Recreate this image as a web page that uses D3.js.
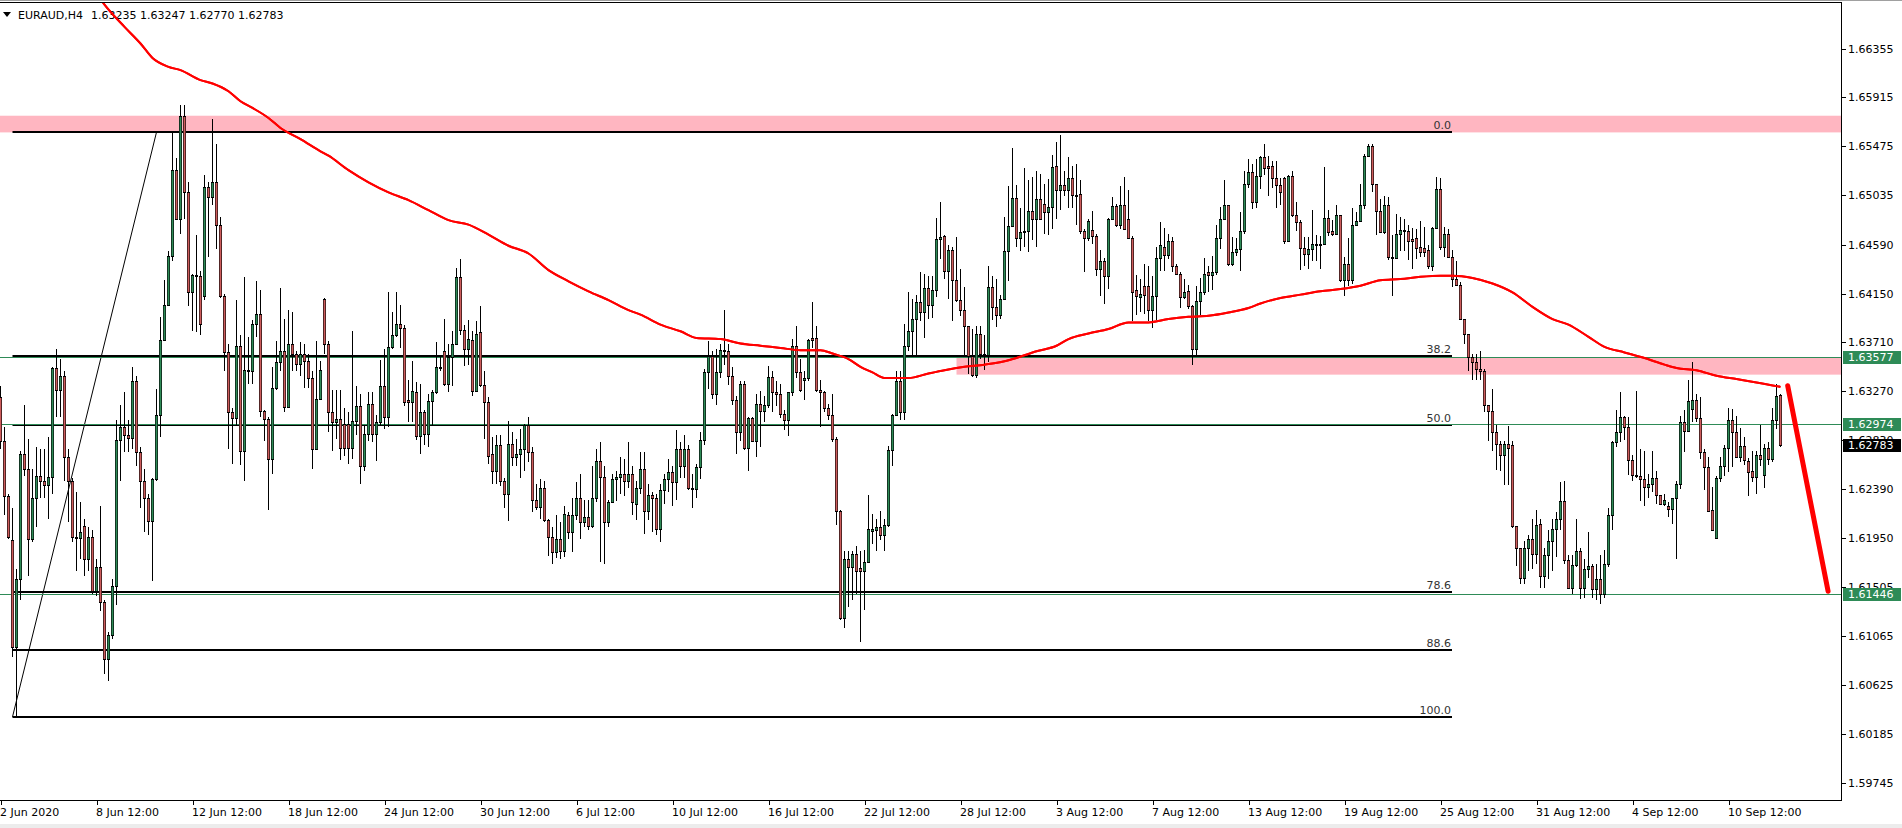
<!DOCTYPE html>
<html><head><meta charset="utf-8">
<script src="https://cdn.jsdelivr.net/npm/d3@7"></script>
<style>
body{margin:0;background:#fff;overflow:hidden}
svg{display:block}
text{font-family:"DejaVu Sans",Verdana,sans-serif;font-size:11px}
</style></head>
<body><svg id="c" width="1902" height="828"></svg>
<script>
// ---------- DATA (EURAUD H4) ----------
const opens=[
1.6322,1.6282,1.6233,1.6193,1.6097,1.6158,1.6271,1.6257,1.6194,1.6231,
1.6251,1.6246,1.6243,1.6250,1.6348,1.6328,1.6341,1.6268,1.6246,1.6196,
1.6195,1.6206,1.6176,1.6196,1.6147,1.6169,1.6137,1.6086,1.6108,1.6152,
1.6283,1.6295,1.6288,1.6285,1.6336,1.6272,1.6246,1.6231,1.6210,1.6248,
1.6306,1.6373,1.6405,1.6449,1.6526,1.6482,1.6575,1.6506,1.6416,1.6432,
1.6431,1.6413,1.6511,1.6502,1.6515,1.6477,1.6413,1.6362,1.6308,1.6303,
1.6368,1.6273,1.6346,1.6345,1.6388,1.6397,1.6309,1.6302,1.6266,1.6330,
1.6353,1.6363,1.6313,1.6370,1.6361,1.6352,1.6361,1.6354,1.6339,1.6275,
1.6320,1.6410,1.6370,1.6308,1.6299,1.6302,1.6298,1.6298,1.6276,1.6300,
1.6314,1.6260,1.6289,1.6316,1.6289,1.6299,1.6332,1.6304,1.6367,1.6378,
1.6388,1.6384,1.6319,1.6317,1.6326,1.6287,1.6308,1.6289,1.6318,1.6326,
1.6348,1.6363,1.6334,1.6358,1.6370,1.6430,1.6382,1.6365,1.6373,1.6327,
1.6380,1.6333,1.6317,1.6271,1.6255,1.6279,1.6246,1.6235,1.6280,1.6268,
1.6271,1.6275,1.6297,1.6272,1.6229,1.6223,1.6240,1.6211,1.6196,1.6182,
1.6194,1.6183,1.6216,1.6200,1.6216,1.6231,1.6209,1.6214,1.6206,1.6231,
1.6264,1.6250,1.6209,1.6227,1.6248,1.6250,1.6253,1.6246,1.6253,1.6226,
1.6240,1.6257,1.6219,1.6234,1.6231,1.6203,1.6238,1.6248,1.6254,1.6245,
1.6275,1.6260,1.6275,1.6240,1.6239,1.6259,1.6283,1.6344,1.6359,1.6325,
1.6344,1.6364,1.6363,1.6341,1.6319,1.6290,1.6334,1.6276,1.6303,1.6282,
1.6316,1.6309,1.6315,1.6340,1.6326,1.6325,1.6307,1.6301,1.6326,1.6368,
1.6344,1.6337,1.6339,1.6375,1.6375,1.6328,1.6326,1.6312,1.6306,1.6284,
1.6219,1.6123,1.6176,1.6169,1.6181,1.6168,1.6165,1.6173,1.6201,1.6202,
1.6205,1.6198,1.6207,1.6274,1.6306,1.6336,1.6308,1.6368,1.6381,1.6392,
1.6407,1.6398,1.6420,1.6405,1.6418,1.6464,1.6467,1.6435,1.6454,1.6427,
1.6409,1.6400,1.6386,1.6359,1.6342,1.6379,1.6361,1.6360,1.6421,1.6403,
1.6396,1.6410,1.6453,1.6476,1.6501,1.6465,1.6470,1.6471,1.6489,1.6482,
1.6500,1.6496,1.6488,1.6493,1.6530,1.6508,1.6513,1.6508,1.6519,1.6504,
1.6505,1.6471,1.6465,1.6472,1.6467,1.6437,1.6444,1.6431,1.6482,1.6494,
1.6477,1.6495,1.6482,1.6465,1.6418,1.6412,1.6422,1.6422,1.6400,1.6413,
1.6447,1.6457,1.6450,1.6462,1.6440,1.6433,1.6412,1.6417,1.6404,1.6365,
1.6408,1.6416,1.6434,1.6432,1.6434,1.6465,1.6482,1.6495,1.6442,1.6452,
1.6455,1.6471,1.6514,1.6524,1.6497,1.6521,1.6538,1.6530,1.6530,1.6519,
1.6513,1.6519,1.6462,1.6521,1.6486,1.6479,1.6456,1.6451,1.6455,1.6460,
1.6459,1.6460,1.6483,1.6471,1.6469,1.6486,1.6427,1.6442,1.6427,1.6477,
1.6480,1.6495,1.6539,1.6548,1.6514,1.6489,1.6470,1.6495,1.6448,1.6447,
1.6469,1.6472,1.6471,1.6464,1.6465,1.6457,1.6456,1.6454,1.6440,1.6474,
1.6509,1.6457,1.6469,1.6448,1.6428,1.6423,1.6392,1.6379,1.6358,1.6353,
1.6347,1.6345,1.6315,1.6309,1.6290,1.6280,1.6270,1.6280,1.6279,1.6206,
1.6186,1.6159,1.6186,1.6194,1.6181,1.6208,1.6161,1.6180,1.6192,1.6203,
1.6212,1.6228,1.6175,1.6150,1.6171,1.6183,1.6150,1.6167,1.6170,1.6149,
1.6158,1.6145,1.6172,1.6216,1.6281,1.6290,1.6304,1.6295,1.6265,1.6252,
1.6251,1.6248,1.6241,1.6244,1.6249,1.6234,1.6226,1.6224,1.6221,1.6231,
1.6244,1.6299,1.6291,1.6311,1.6319,1.6303,1.6272,1.6259,1.6220,1.6195,
1.6249,1.6260,1.6276,1.6301,1.6290,1.6268,1.6278,1.6264,1.6255,1.6250,
1.6270,1.6252,1.6276,1.6266,1.6301,1.63235];
const highs=[
1.6332,1.6295,1.6235,1.6222,1.6167,1.6273,1.6315,1.6284,1.6257,1.6277,
1.6275,1.6275,1.6286,1.6349,1.6365,1.6356,1.6345,1.6275,1.6249,1.6236,
1.6227,1.6212,1.6205,1.6202,1.6176,1.6224,1.6139,1.6110,1.6158,1.6301,
1.6315,1.6326,1.6301,1.6349,1.6341,1.6277,1.6257,1.6235,1.6249,1.6329,
1.6394,1.6427,1.6453,1.6560,1.6537,1.6585,1.6585,1.6515,1.6433,1.6468,
1.6435,1.6522,1.6515,1.6572,1.6550,1.6484,1.6415,1.6370,1.6312,1.6409,
1.6378,1.6430,1.6376,1.6391,1.6426,1.6418,1.6310,1.6304,1.6349,1.6372,
1.6420,1.6392,1.6400,1.6398,1.6363,1.6371,1.6370,1.6361,1.6345,1.6372,
1.6354,1.6411,1.6372,1.6328,1.6328,1.6328,1.6312,1.6308,1.6381,1.6332,
1.6325,1.6297,1.6326,1.6326,1.6306,1.6355,1.6365,1.6416,1.6398,1.6416,
1.6405,1.6387,1.6337,1.6354,1.6335,1.6334,1.6310,1.6325,1.6328,1.6371,
1.6358,1.6392,1.6370,1.6381,1.6438,1.6446,1.6387,1.6391,1.6381,1.6390,
1.6404,1.6345,1.6322,1.6286,1.6288,1.6288,1.6249,1.6300,1.6290,1.6284,
1.6293,1.6298,1.6304,1.6277,1.6244,1.6248,1.6246,1.6212,1.6205,1.6216,
1.6209,1.6224,1.6218,1.6231,1.6245,1.6253,1.6229,1.6229,1.6260,1.6275,
1.6281,1.6260,1.6229,1.6253,1.6255,1.6268,1.6266,1.6281,1.6260,1.6246,
1.6272,1.6272,1.6244,1.6236,1.6235,1.6244,1.6253,1.6266,1.6260,1.6292,
1.6281,1.6288,1.6279,1.6253,1.6262,1.6290,1.6347,1.6372,1.6363,1.6365,
1.6370,1.6400,1.6370,1.6349,1.6323,1.6336,1.6336,1.6304,1.6304,1.6325,
1.6327,1.6323,1.6350,1.6345,1.6336,1.6334,1.6310,1.6326,1.6374,1.6386,
1.6356,1.6345,1.6374,1.6407,1.6386,1.6337,1.6327,1.6316,1.6325,1.6286,
1.6220,1.6183,1.6183,1.6183,1.6188,1.6183,1.6184,1.6234,1.6217,1.6212,
1.6219,1.6212,1.6278,1.6307,1.6345,1.6345,1.6388,1.6416,1.6410,1.6414,
1.6434,1.6433,1.6431,1.6431,1.6483,1.6497,1.6468,1.6459,1.6457,1.6466,
1.6437,1.6421,1.6386,1.6383,1.6386,1.6386,1.6378,1.6440,1.6431,1.6428,
1.6414,1.6484,1.6512,1.6546,1.6513,1.6492,1.6528,1.6517,1.6520,1.6525,
1.6523,1.6514,1.6518,1.6540,1.6551,1.6558,1.6525,1.6538,1.6530,1.6532,
1.6517,1.6473,1.6482,1.6489,1.6469,1.6454,1.6447,1.6483,1.6502,1.6496,
1.6512,1.6520,1.6508,1.6467,1.6432,1.6428,1.6442,1.6440,1.6431,1.6457,
1.6479,1.6474,1.6469,1.6466,1.6442,1.6434,1.6428,1.6423,1.6405,1.6422,
1.6429,1.6447,1.6440,1.6449,1.6477,1.6493,1.6517,1.6495,1.6466,1.6465,
1.6488,1.6525,1.6536,1.6532,1.6536,1.6539,1.6550,1.6539,1.6534,1.6534,
1.6519,1.6520,1.6522,1.6525,1.6497,1.6481,1.6466,1.6466,1.6490,1.6468,
1.6467,1.6529,1.6490,1.6481,1.6495,1.6486,1.6448,1.6465,1.6492,1.6488,
1.6514,1.6541,1.6550,1.6550,1.6514,1.6500,1.6503,1.6502,1.6468,1.6487,
1.6484,1.6482,1.6477,1.6474,1.6473,1.6480,1.6475,1.6459,1.6475,1.6520,
1.6519,1.6475,1.6473,1.6454,1.6444,1.6425,1.6392,1.6379,1.6361,1.6361,
1.6363,1.6347,1.6315,1.6329,1.6297,1.6282,1.6282,1.6296,1.6282,1.6206,
1.6186,1.6192,1.6198,1.6212,1.6220,1.6212,1.6186,1.6202,1.6212,1.6218,
1.6245,1.6246,1.6180,1.6180,1.6212,1.6186,1.6176,1.6200,1.6172,1.6172,
1.6180,1.6184,1.6222,1.6282,1.6310,1.6326,1.6305,1.6304,1.6270,1.6327,
1.6275,1.6273,1.6253,1.6273,1.6255,1.6234,1.6235,1.6227,1.6231,1.6246,
1.6305,1.6310,1.6337,1.6353,1.6325,1.6322,1.6275,1.6268,1.6241,1.6251,
1.6268,1.6279,1.6312,1.6311,1.6305,1.6294,1.6286,1.6267,1.6273,1.6273,
1.6297,1.6280,1.6281,1.6312,1.6334,1.63247];
const lows=[
1.6275,1.6216,1.6194,1.6088,1.6034,1.6139,1.6251,1.6161,1.6191,1.6205,
1.6231,1.6231,1.6212,1.6235,1.6304,1.6304,1.6246,1.6209,1.6191,1.6165,
1.6176,1.6161,1.6165,1.6145,1.6143,1.6129,1.6073,1.6066,1.6104,1.6135,
1.6246,1.6272,1.6272,1.6275,1.6260,1.6222,1.6200,1.6198,1.6156,1.6246,
1.6286,1.6372,1.6404,1.6444,1.6481,1.6469,1.6482,1.6404,1.6381,1.6380,
1.6378,1.6409,1.6448,1.6495,1.6455,1.6411,1.6345,1.6275,1.6262,1.6297,
1.6261,1.6246,1.6334,1.6334,1.6376,1.6304,1.6282,1.6220,1.6253,1.6328,
1.6345,1.6308,1.6312,1.6345,1.6345,1.6341,1.6330,1.6330,1.6257,1.6275,
1.6319,1.6361,1.6290,1.6273,1.6284,1.6265,1.6269,1.6262,1.6266,1.6288,
1.6244,1.6255,1.6282,1.6281,1.6264,1.6297,1.6293,1.6295,1.6365,1.6376,
1.6366,1.6314,1.6299,1.6299,1.6283,1.6271,1.6279,1.6277,1.6297,1.6325,
1.6345,1.6332,1.6326,1.6332,1.6369,1.6378,1.6350,1.6351,1.6323,1.6326,
1.6331,1.6284,1.6262,1.6244,1.6244,1.6242,1.6222,1.6210,1.6260,1.6260,
1.6249,1.6255,1.6263,1.6218,1.6220,1.6212,1.6209,1.6179,1.6172,1.6177,
1.6176,1.6178,1.6194,1.6182,1.6211,1.6194,1.6205,1.6202,1.6204,1.6227,
1.6173,1.6172,1.6205,1.6227,1.6228,1.6235,1.6233,1.6240,1.6216,1.6211,
1.6235,1.6199,1.6211,1.6200,1.6198,1.6191,1.6226,1.6236,1.6224,1.6229,
1.6249,1.6249,1.6238,1.6222,1.6231,1.6248,1.6279,1.6329,1.6320,1.6315,
1.6339,1.6351,1.6333,1.6315,1.6271,1.6282,1.6274,1.6255,1.6281,1.6268,
1.6277,1.6299,1.6312,1.6308,1.6314,1.6303,1.6292,1.6287,1.6323,1.6339,
1.6326,1.6319,1.6336,1.6366,1.6326,1.6295,1.6308,1.6301,1.6281,1.6207,
1.6121,1.6114,1.6133,1.6139,1.6145,1.6101,1.6130,1.6173,1.6190,1.6183,
1.6193,1.6183,1.6205,1.6260,1.6305,1.6301,1.6301,1.6363,1.6359,1.6359,
1.6390,1.6375,1.6392,1.6393,1.6412,1.6446,1.6428,1.6410,1.6390,1.6407,
1.6395,1.6358,1.6343,1.6340,1.6339,1.6356,1.6346,1.6353,1.6391,1.6385,
1.6392,1.6409,1.6426,1.6475,1.6457,1.6453,1.6457,1.6452,1.6463,1.6457,
1.6481,1.6469,1.6468,1.6473,1.6482,1.6490,1.6503,1.6492,1.6492,1.6477,
1.6469,1.6434,1.6462,1.6460,1.6431,1.6413,1.6406,1.6419,1.6481,1.6475,
1.6473,1.6472,1.6464,1.6390,1.6396,1.6398,1.6397,1.6390,1.6384,1.6391,
1.6435,1.6435,1.6446,1.6434,1.6432,1.6402,1.6410,1.6401,1.6351,1.6358,
1.6396,1.6414,1.6416,1.6418,1.6432,1.6455,1.6481,1.6440,1.6440,1.6449,
1.6435,1.6469,1.6510,1.6491,1.6492,1.6509,1.6522,1.6503,1.6510,1.6492,
1.6495,1.6460,1.6462,1.6484,1.6471,1.6436,1.6440,1.6437,1.6444,1.6444,
1.6437,1.6459,1.6467,1.6467,1.6468,1.6425,1.6413,1.6422,1.6424,1.6476,
1.6480,1.6491,1.6539,1.6506,1.6468,1.6470,1.6469,1.6445,1.6413,1.6447,
1.6453,1.6453,1.6445,1.6437,1.6446,1.6448,1.6448,1.6437,1.6435,1.6473,
1.6454,1.6448,1.6447,1.6421,1.6422,1.6391,1.6370,1.6345,1.6337,1.6337,
1.6337,1.6308,1.6282,1.6273,1.6256,1.6255,1.6243,1.6243,1.6204,1.6170,
1.6154,1.6154,1.6165,1.6167,1.6172,1.6150,1.6150,1.6158,1.6165,1.6178,
1.6202,1.6172,1.6149,1.6145,1.6169,1.6140,1.6141,1.6159,1.6141,1.6139,
1.6136,1.6141,1.6169,1.6202,1.6277,1.6281,1.6283,1.6252,1.6246,1.6249,
1.6228,1.6224,1.6231,1.6236,1.6226,1.6225,1.6224,1.6214,1.6208,1.6176,
1.6239,1.6272,1.6290,1.6299,1.6299,1.6266,1.6238,1.6218,1.6201,1.6194,
1.6245,1.6251,1.6254,1.6259,1.6267,1.6263,1.6261,1.6233,1.6245,1.6235,
1.6260,1.6240,1.6261,1.6263,1.6293,1.62770];
const closes=[
1.6282,1.6233,1.6196,1.6097,1.6158,1.6271,1.6257,1.6194,1.6231,1.6251,
1.6246,1.6243,1.6250,1.6348,1.6328,1.6341,1.6268,1.6246,1.6196,1.6195,
1.6200,1.6176,1.6196,1.6147,1.6169,1.6137,1.6086,1.6108,1.6152,1.6283,
1.6295,1.6288,1.6285,1.6336,1.6272,1.6246,1.6231,1.6210,1.6248,1.6306,
1.6373,1.6405,1.6449,1.6526,1.6482,1.6575,1.6506,1.6416,1.6432,1.6431,
1.6388,1.6511,1.6502,1.6515,1.6477,1.6413,1.6362,1.6308,1.6303,1.6368,
1.6273,1.6346,1.6345,1.6388,1.6397,1.6309,1.6302,1.6266,1.6330,1.6353,
1.6363,1.6313,1.6370,1.6361,1.6352,1.6361,1.6354,1.6339,1.6275,1.6320,
1.6346,1.6370,1.6308,1.6299,1.6302,1.6276,1.6276,1.6276,1.6300,1.6314,
1.6260,1.6289,1.6316,1.6289,1.6299,1.6332,1.6304,1.6367,1.6378,1.6388,
1.6384,1.6317,1.6317,1.6327,1.6287,1.6308,1.6289,1.6318,1.6326,1.6349,
1.6349,1.6334,1.6358,1.6370,1.6430,1.6382,1.6365,1.6374,1.6327,1.6379,
1.6333,1.6317,1.6269,1.6255,1.6279,1.6246,1.6235,1.6280,1.6268,1.6271,
1.6275,1.6297,1.6272,1.6229,1.6223,1.6240,1.6211,1.6196,1.6182,1.6194,
1.6183,1.6217,1.6200,1.6216,1.6231,1.6209,1.6214,1.6206,1.6231,1.6264,
1.6250,1.6209,1.6227,1.6248,1.6250,1.6253,1.6246,1.6253,1.6227,1.6240,
1.6257,1.6219,1.6234,1.6231,1.6203,1.6238,1.6248,1.6254,1.6245,1.6275,
1.6260,1.6275,1.6240,1.6239,1.6259,1.6283,1.6344,1.6359,1.6325,1.6344,
1.6364,1.6363,1.6341,1.6319,1.6290,1.6334,1.6276,1.6303,1.6282,1.6316,
1.6309,1.6315,1.6340,1.6326,1.6325,1.6307,1.6301,1.6326,1.6368,1.6344,
1.6328,1.6339,1.6373,1.6373,1.6328,1.6326,1.6312,1.6306,1.6284,1.6219,
1.6123,1.6176,1.6169,1.6181,1.6165,1.6165,1.6173,1.6203,1.6203,1.6205,
1.6198,1.6207,1.6274,1.6306,1.6336,1.6308,1.6368,1.6381,1.6392,1.6407,
1.6398,1.6420,1.6405,1.6418,1.6464,1.6466,1.6435,1.6454,1.6427,1.6409,
1.6400,1.6386,1.6359,1.6342,1.6379,1.6361,1.6360,1.6421,1.6403,1.6396,
1.6410,1.6453,1.6476,1.6501,1.6465,1.6470,1.6471,1.6489,1.6482,1.6500,
1.6482,1.6488,1.6493,1.6529,1.6508,1.6513,1.6508,1.6519,1.6504,1.6503,
1.6471,1.6465,1.6480,1.6467,1.6437,1.6444,1.6431,1.6482,1.6494,1.6477,
1.6495,1.6473,1.6465,1.6416,1.6413,1.6415,1.6414,1.6400,1.6413,1.6447,
1.6459,1.6450,1.6462,1.6440,1.6433,1.6412,1.6416,1.6404,1.6365,1.6408,
1.6416,1.6433,1.6432,1.6434,1.6465,1.6482,1.6495,1.6442,1.6452,1.6455,
1.6471,1.6514,1.6524,1.6497,1.6521,1.6538,1.6528,1.6528,1.6519,1.6513,
1.6506,1.6462,1.6521,1.6486,1.6479,1.6456,1.6451,1.6455,1.6460,1.6459,
1.6460,1.6483,1.6470,1.6469,1.6486,1.6427,1.6442,1.6427,1.6477,1.6480,
1.6495,1.6539,1.6548,1.6514,1.6489,1.6470,1.6495,1.6448,1.6447,1.6469,
1.6472,1.6471,1.6462,1.6462,1.6456,1.6452,1.6452,1.6440,1.6474,1.6509,
1.6457,1.6469,1.6448,1.6428,1.6423,1.6392,1.6379,1.6358,1.6353,1.6347,
1.6345,1.6315,1.6309,1.6290,1.6280,1.6270,1.6280,1.6276,1.6206,1.6186,
1.6159,1.6186,1.6194,1.6181,1.6207,1.6161,1.6180,1.6192,1.6203,1.6212,
1.6228,1.6175,1.6150,1.6171,1.6183,1.6150,1.6167,1.6170,1.6149,1.6158,
1.6145,1.6172,1.6216,1.6281,1.6290,1.6304,1.6295,1.6265,1.6252,1.6251,
1.6248,1.6241,1.6244,1.6249,1.6234,1.6226,1.6229,1.6221,1.6231,1.6244,
1.6299,1.6291,1.6318,1.6319,1.6303,1.6272,1.6259,1.6219,1.6202,1.6249,
1.6260,1.6276,1.6301,1.6290,1.6268,1.6278,1.6265,1.6254,1.6250,1.6270,
1.6266,1.6276,1.6266,1.6301,1.6323,1.62783];

// moving average (read at sample bars)
const maBars=[24,26,31,35,38,42,45,50,53,57,60,63,67,70,75,80,82,87,92,97,102,107,112,117,122,127,132,137,142,147,152,157,160,165,170,174,180,185,190,195,200,205,208,212,215,218,221,227,232,236,241,246,251,254,259,264,267,272,277,282,287,292,297,302,307,312,315,320,325,330,335,340,345,350,355,360,363,368,373,378,383,388,392,397,401,406,411,416,419,424,429,434,439,445];
const maValues=[1.6685,1.6675,1.6655,1.6640,1.6627,1.6619,1.6616,1.6607,1.6604,1.6597,1.6588,1.6582,1.6573,1.6564,1.6554,1.6543,1.6539,1.6526,1.6515,1.6506,1.6499,1.6490,1.6481,1.6477,1.6468,1.6458,1.6451,1.6436,1.6426,1.6417,1.6409,1.6400,1.6396,1.6387,1.6381,1.6375,1.6374,1.6370,1.6368,1.6366,1.6364,1.6364,1.6361,1.6356,1.6349,1.6344,1.6339,1.6339,1.6343,1.6346,1.6349,1.6351,1.6354,1.6357,1.6363,1.6368,1.6374,1.6379,1.6383,1.6389,1.6389,1.6392,1.6394,1.6395,1.6398,1.6402,1.6406,1.6411,1.6414,1.6417,1.6419,1.6422,1.6427,1.6428,1.6430,1.6431,1.6431,1.6429,1.6424,1.6416,1.6403,1.6392,1.6387,1.6376,1.6367,1.6362,1.6357,1.6351,1.6348,1.6346,1.6341,1.6338,1.6335,1.6331];

const timeLabels=["2 Jun 2020","8 Jun 12:00","12 Jun 12:00","18 Jun 12:00","24 Jun 12:00","30 Jun 12:00","6 Jul 12:00","10 Jul 12:00","16 Jul 12:00","22 Jul 12:00","28 Jul 12:00","3 Aug 12:00","7 Aug 12:00","13 Aug 12:00","19 Aug 12:00","25 Aug 12:00","31 Aug 12:00","4 Sep 12:00","10 Sep 12:00"];
const timeLabelBars=[0,24,48,72,96,120,144,168,192,216,240,264,288,312,336,360,384,408,432];
const priceTicks=[1.66355,1.65915,1.65475,1.65035,1.64590,1.64150,1.63710,1.63270,1.62830,1.62390,1.61950,1.61505,1.61065,1.60625,1.60185,1.59745];

const fibLevels=[0,38.2,50,78.6,88.6,100];
const fibLabels=["0.0","38.2","50.0","78.6","88.6","100.0"];
const fibHigh=1.65602, fibLow=1.60340;
const fibStartBar=3, fibEndBar=363, fibDiagTopBar=39;

const zoneTops=[1.6575,1.6357];
const zoneBottoms=[1.6560,1.6342];
const zoneStartBars=[-1,239];

const hLinePrices=[1.63577,1.62974,1.61446];
const markerPrices=[1.63577,1.62974,1.62783,1.61446];
const markerColors=["#2e8b57","#2e8b57","#000000","#2e8b57"];

const arrowBars=[446.8,456.9];
const arrowPrices=[1.6332,1.6147];

const symbol="EURAUD,H4";
const quote=[1.63235,1.63247,1.62770,1.62783];

// ---------- DRAW ----------
const svg=d3.select("#c");
const plotR=1841, plotT=3, plotB=800;
const x=d3.scaleLinear().domain([0,445]).range([0.5,1780.5]);
const y=d3.scaleLinear().domain([1.66355,1.59745]).range([48.5,783]);
const GREEN="#2e8b57", RED="#cd5c5c", PINK="#ffb6c1";

// window chrome
svg.append("rect").attr("x",0).attr("y",0).attr("width",1902).attr("height",828).attr("fill","#fff");
svg.append("rect").attr("x",0).attr("y",0).attr("width",1902).attr("height",1).attr("fill","#a0a0a0");
svg.append("rect").attr("x",0).attr("y",824).attr("width",1902).attr("height",4).attr("fill","#ececec");

svg.append("defs").append("clipPath").attr("id","clip")
  .append("rect").attr("x",0).attr("y",plotT).attr("width",plotR).attr("height",plotB-plotT);

const g=svg.append("g").attr("clip-path","url(#clip)");

// pink zones
g.selectAll("rect.zone").data(zoneTops).join("rect").attr("class","zone")
  .attr("x",(d,i)=>Math.max(0,x(zoneStartBars[i])))
  .attr("y",d=>y(d))
  .attr("width",(d,i)=>plotR-Math.max(0,x(zoneStartBars[i])))
  .attr("height",(d,i)=>y(zoneBottoms[i])-y(d))
  .attr("fill",PINK);

// fib levels
const fibPrice=l=>fibHigh-(fibHigh-fibLow)*l/100;
g.selectAll("line.fib").data(fibLevels).join("line").attr("class","fib")
  .attr("x1",x(fibStartBar)).attr("x2",1452)
  .attr("y1",d=>Math.round(y(fibPrice(d)))).attr("y2",d=>Math.round(y(fibPrice(d))))
  .attr("stroke","#000").attr("stroke-width",2);
g.append("line")
  .attr("x1",x(fibStartBar)).attr("y1",y(fibLow))
  .attr("x2",x(fibDiagTopBar)).attr("y2",y(fibHigh))
  .attr("stroke","#000").attr("stroke-width",1);
g.selectAll("text.fibl").data(fibLevels).join("text").attr("class","fibl")
  .attr("x",1451).attr("y",d=>Math.round(y(fibPrice(d)))-3)
  .attr("text-anchor","end").attr("fill","#333")
  .text((d,i)=>fibLabels[i]);

// green horizontal lines
g.selectAll("line.hl").data(hLinePrices).join("line").attr("class","hl")
  .attr("x1",0).attr("x2",plotR)
  .attr("y1",d=>Math.round(y(d))+0.5).attr("y2",d=>Math.round(y(d))+0.5)
  .attr("stroke",GREEN).attr("stroke-width",1);

// candles
const idx=d3.range(closes.length);
const cg=g.append("g");
cg.selectAll("line.wick").data(idx).join("line").attr("class","wick")
  .attr("x1",i=>x(i)).attr("x2",i=>x(i))
  .attr("y1",i=>y(Math.max(highs[i],opens[i],closes[i])))
  .attr("y2",i=>y(Math.min(lows[i],opens[i],closes[i])))
  .attr("stroke","#000").attr("stroke-width",1).attr("shape-rendering","crispEdges");
const bTop=i=>Math.round(y(Math.max(opens[i],closes[i])));
const bH=i=>Math.max(1,Math.round(y(Math.min(opens[i],closes[i])))-bTop(i));
cg.selectAll("rect.body").data(idx).join("rect").attr("class","body")
  .attr("x",i=>x(i)-1.5).attr("width",3)
  .attr("y",bTop).attr("height",i=>bH(i)+1)
  .attr("fill","#000").attr("shape-rendering","crispEdges");
cg.selectAll("rect.fill").data(idx.filter(i=>bH(i)>1)).join("rect").attr("class","fill")
  .attr("x",i=>x(i)-0.9).attr("width",1.8)
  .attr("y",i=>bTop(i)+1).attr("height",i=>bH(i)-1)
  .attr("fill",i=>closes[i]>=opens[i]?GREEN:RED);

// moving average
const maLine=d3.line().x(d=>x(d[0])).y(d=>y(d[1])).curve(d3.curveMonotoneX);
g.append("path").datum(maBars.map((b,i)=>[b,maValues[i]]))
  .attr("d",maLine).attr("fill","none").attr("stroke","#ff0000").attr("stroke-width",2);

// red arrow
g.append("line")
  .attr("x1",x(arrowBars[0])).attr("y1",y(arrowPrices[0]))
  .attr("x2",x(arrowBars[1])).attr("y2",y(arrowPrices[1]))
  .attr("stroke","#ff0000").attr("stroke-width",5).attr("stroke-linecap","round");

// frame
svg.append("line").attr("x1",0).attr("x2",plotR+0.5).attr("y1",plotT-0.5).attr("y2",plotT-0.5).attr("stroke","#000");
svg.append("line").attr("x1",plotR+0.5).attr("x2",plotR+0.5).attr("y1",plotT-1).attr("y2",plotB+0.5).attr("stroke","#000");
svg.append("line").attr("x1",0).attr("x2",plotR+1).attr("y1",plotB+0.5).attr("y2",plotB+0.5).attr("stroke","#000");

// price axis
svg.selectAll("line.pt").data(priceTicks).join("line").attr("class","pt")
  .attr("x1",plotR+1).attr("x2",plotR+5)
  .attr("y1",d=>Math.round(y(d))+0.5).attr("y2",d=>Math.round(y(d))+0.5).attr("stroke","#000");
svg.selectAll("text.pl").data(priceTicks).join("text").attr("class","pl")
  .attr("x",1848).attr("y",d=>Math.round(y(d))+4).attr("fill","#000")
  .text(d=>d.toFixed(5));
const mk=svg.selectAll("g.mk").data(markerPrices).join("g").attr("class","mk");
mk.append("rect").attr("x",plotR+2).attr("y",d=>Math.round(y(d))-6).attr("width",58).attr("height",13)
  .attr("fill",(d,i)=>markerColors[i]);
mk.append("text").attr("x",1848).attr("y",d=>Math.round(y(d))+4).attr("fill","#fff").text(d=>d.toFixed(5));

// time axis
svg.selectAll("line.tt").data(timeLabelBars).join("line").attr("class","tt")
  .attr("x1",d=>Math.round(x(d))+0.5).attr("x2",d=>Math.round(x(d))+0.5)
  .attr("y1",plotB+1).attr("y2",plotB+5).attr("stroke","#000");
svg.selectAll("text.tl").data(timeLabelBars).join("text").attr("class","tl")
  .attr("x",d=>Math.max(0,x(d)-0.5)).attr("y",816).attr("fill","#000")
  .text((d,i)=>timeLabels[i]);

// header
svg.append("path").attr("d","M3,12 L11,12 L7,17 Z").attr("fill","#000");
svg.append("text").attr("x",18).attr("y",19).attr("fill","#000").text(symbol);
svg.append("text").attr("x",91).attr("y",19).attr("fill","#000").text(quote.map(v=>v.toFixed(5)).join(" "));
// MA passes over header text
svg.append("path").datum(maBars.map((b,i)=>[b,maValues[i]]))
  .attr("d",maLine).attr("fill","none").attr("stroke","#ff0000").attr("stroke-width",2)
  .attr("clip-path","url(#clip)");
</script></body></html>
